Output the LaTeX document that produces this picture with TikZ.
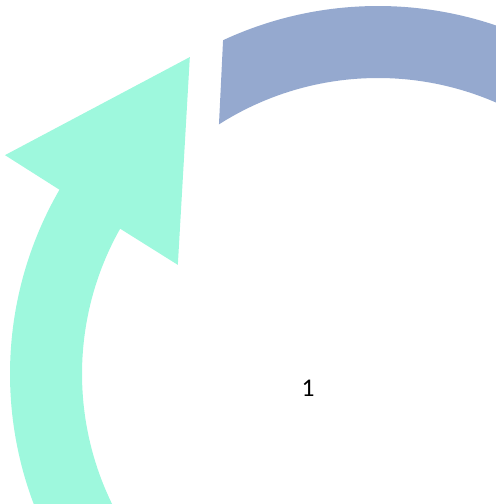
\documentclass[tikz,border=0pt]{standalone}
\usepackage{fontspec}
\setmainfont{Carlito}
\definecolor{mint}{HTML}{9EF8DD}
\definecolor{slate}{HTML}{95A9CF}

\begin{document}
\begin{tikzpicture}[x=0.02cm,y=0.02cm,
  band/.style={fill=slate,draw=none},
  arrowband/.style={fill=mint,draw=none},
  lbl/.style={font=\fontsize{14.5}{17}\selectfont,text=black,inner sep=0pt}]
\useasboundingbox (0,0) rectangle (496,504);
\clip (0,0) rectangle (496,504);
\begin{scope}[shift={(378,130)}]
\fill[band] (114.9:368) arc[start angle=114.9,end angle=55,radius=368]
  -- (55:296) arc[start angle=55,end angle=122.5,radius=296] -- cycle;
\fill[arrowband] (149.95:368) arc[start angle=149.95,end angle=215,radius=368]
  -- (215:296) arc[start angle=215,end angle=150.6,radius=296]
  -- (151.4:228) -- (120.7:368.6) -- (149.6:432.5) -- cycle;
\end{scope}
\node[lbl] (num) at (308,116) {1};
\end{tikzpicture}
\end{document}
